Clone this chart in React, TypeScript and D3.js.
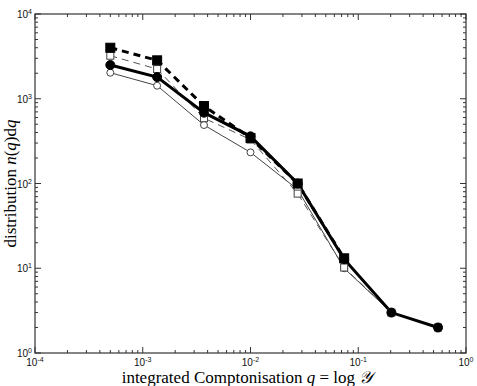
import * as d3 from "d3";
import { useEffect, useRef } from "react";

// q values (integrated Comptonisation)
const qValues = [5e-4, 1.36e-3, 3.7e-3, 1e-2, 2.74e-2, 7.4e-2, 0.203, 0.55];

// four distributions (null = no point)
const filledSquares = [4000, 2840, 820, 345, 100, 13.1, null, null];
const openSquares = [3220, 2240, 590, 330, 76, 10.2, 3.0, 2.0];
const filledCircles = [2500, 1800, 685, 360, 100, 12.8, 3.0, 2.0];
const openCircles = [2030, 1425, 490, 233, 85, 10.0, 3.0, 2.0];

const xTicks = [1e-4, 1e-3, 1e-2, 1e-1, 1];
const yTicks = [1, 10, 100, 1000, 10000];

const series = [
    { values: openCircles, marker: "circle", filled: false, width: 1, dash: null, color: "#444" },
    { values: openSquares, marker: "square", filled: false, width: 1, dash: "7,5", color: "#555" },
    { values: filledCircles, marker: "circle", filled: true, width: 3, dash: null, color: "#000" },
    { values: filledSquares, marker: "square", filled: true, width: 3, dash: "7,5", color: "#000" },
];

const App = () => {
    const ref = useRef(null);
    const width = 477;
    const height = 386;
    const margin = { top: 14, right: 11, bottom: 33, left: 35 };

    useEffect(() => {
        const svg = d3.select(ref.current);
        svg.selectAll("*").remove();

        const x = d3.scaleLog().domain([1e-4, 1]).range([margin.left, width - margin.right]);
        const y = d3.scaleLog().domain([1, 1e4]).range([height - margin.bottom, margin.top]);
        const axisColor = "#333";

        // minor ticks
        const minorX = [];
        for (let e = -4; e < 0; e++) for (let k = 2; k < 10; k++) minorX.push(k * Math.pow(10, e));
        const minorY = [];
        for (let e = 0; e < 4; e++) for (let k = 2; k < 10; k++) minorY.push(k * Math.pow(10, e));

        const g = svg.append("g");
        const x0 = x.range()[0], x1 = x.range()[1];
        const y0 = y.range()[0], y1 = y.range()[1];

        const tick = (x1p, y1p, x2p, y2p) =>
            g.append("line").attr("x1", x1p).attr("y1", y1p).attr("x2", x2p).attr("y2", y2p)
                .attr("stroke", axisColor).attr("stroke-width", 1);

        minorX.forEach(v => { tick(x(v), y0, x(v), y0 - 3); tick(x(v), y1, x(v), y1 + 3); });
        xTicks.forEach(v => { tick(x(v), y0, x(v), y0 - 6); tick(x(v), y1, x(v), y1 + 6); });
        minorY.forEach(v => { tick(x0, y(v), x0 + 3, y(v)); tick(x1, y(v), x1 - 3, y(v)); });
        yTicks.forEach(v => { tick(x0, y(v), x0 + 6, y(v)); tick(x1, y(v), x1 - 6, y(v)); });

        g.append("rect").attr("x", x0).attr("y", y1).attr("width", x1 - x0).attr("height", y0 - y1)
            .attr("fill", "none").attr("stroke", axisColor).attr("stroke-width", 1.2);

        // tick labels
        xTicks.forEach(v => {
            const t = g.append("text").attr("x", x(v)).attr("y", y0 + 13)
                .attr("text-anchor", "middle").attr("font-family", "Liberation Sans, Arial, sans-serif")
                .attr("font-size", 10).attr("fill", "#111");
            t.append("tspan").text("10");
            t.append("tspan").attr("dy", -4).attr("font-size", 7).text(String(Math.round(Math.log10(v))));
        });
        yTicks.forEach(v => {
            const t = g.append("text").attr("x", x0 - 3).attr("y", y(v) + 4)
                .attr("text-anchor", "end").attr("font-family", "Liberation Sans, Arial, sans-serif")
                .attr("font-size", 10).attr("fill", "#111");
            t.append("tspan").text("10");
            t.append("tspan").attr("dy", -4).attr("font-size", 7).text(String(Math.round(Math.log10(v))));
        });

        // axis titles
        const xt = svg.append("text").attr("x", 247).attr("y", height - 3)
            .attr("text-anchor", "middle").attr("font-family", "Liberation Serif, Times New Roman, serif")
            .attr("font-size", 17).attr("fill", "#000");
        xt.append("tspan").text("integrated Comptonisation ");
        xt.append("tspan").attr("font-style", "italic").text("q");
        xt.append("tspan").text(" = log ");
        xt.append("tspan").attr("font-style", "italic").attr("font-family", "DejaVu Serif, serif").text("\u{1D4B4}");

        const yt = svg.append("text")
            .attr("transform", `translate(16, ${(y0 + y1) / 2}) rotate(-90)`)
            .attr("text-anchor", "middle").attr("font-family", "Liberation Serif, Times New Roman, serif")
            .attr("font-size", 17).attr("fill", "#000");
        yt.append("tspan").text("distribution ");
        yt.append("tspan").attr("font-style", "italic").text("n");
        yt.append("tspan").text("(");
        yt.append("tspan").attr("font-style", "italic").text("q");
        yt.append("tspan").text(")d");
        yt.append("tspan").attr("font-style", "italic").text("q");

        // lines and markers
        const line = d3.line().defined(d => d[1] != null).x(d => x(d[0])).y(d => y(d[1]));
        series.forEach(s => {
            const pts = qValues.map((q, i) => [q, s.values[i]]);
            svg.append("path").datum(pts).attr("d", line)
                .attr("fill", "none").attr("stroke", s.color).attr("stroke-width", s.width)
                .attr("stroke-dasharray", s.dash);
        });
        series.forEach(s => {
            const pts = qValues.map((q, i) => [q, s.values[i]]).filter(d => d[1] != null);
            const size = s.filled ? 9 : 7;
            if (s.marker === "circle") {
                svg.selectAll(null).data(pts).enter().append("circle")
                    .attr("cx", d => x(d[0])).attr("cy", d => y(d[1])).attr("r", size / 2)
                    .attr("fill", s.filled ? "#000" : "#fff").attr("stroke", s.filled ? "#000" : "#444")
                    .attr("stroke-width", 1);
            } else {
                svg.selectAll(null).data(pts).enter().append("rect")
                    .attr("x", d => x(d[0]) - size / 2).attr("y", d => y(d[1]) - size / 2)
                    .attr("width", size).attr("height", size)
                    .attr("fill", s.filled ? "#000" : "#fff").attr("stroke", s.filled ? "#000" : "#444")
                    .attr("stroke-width", 1);
            }
        });
    }, []);

    return <svg ref={ref} width={width} height={height} style={{ position: "absolute", left: 0, top: 0, background: "#fff" }}></svg>;
};

export default App;
